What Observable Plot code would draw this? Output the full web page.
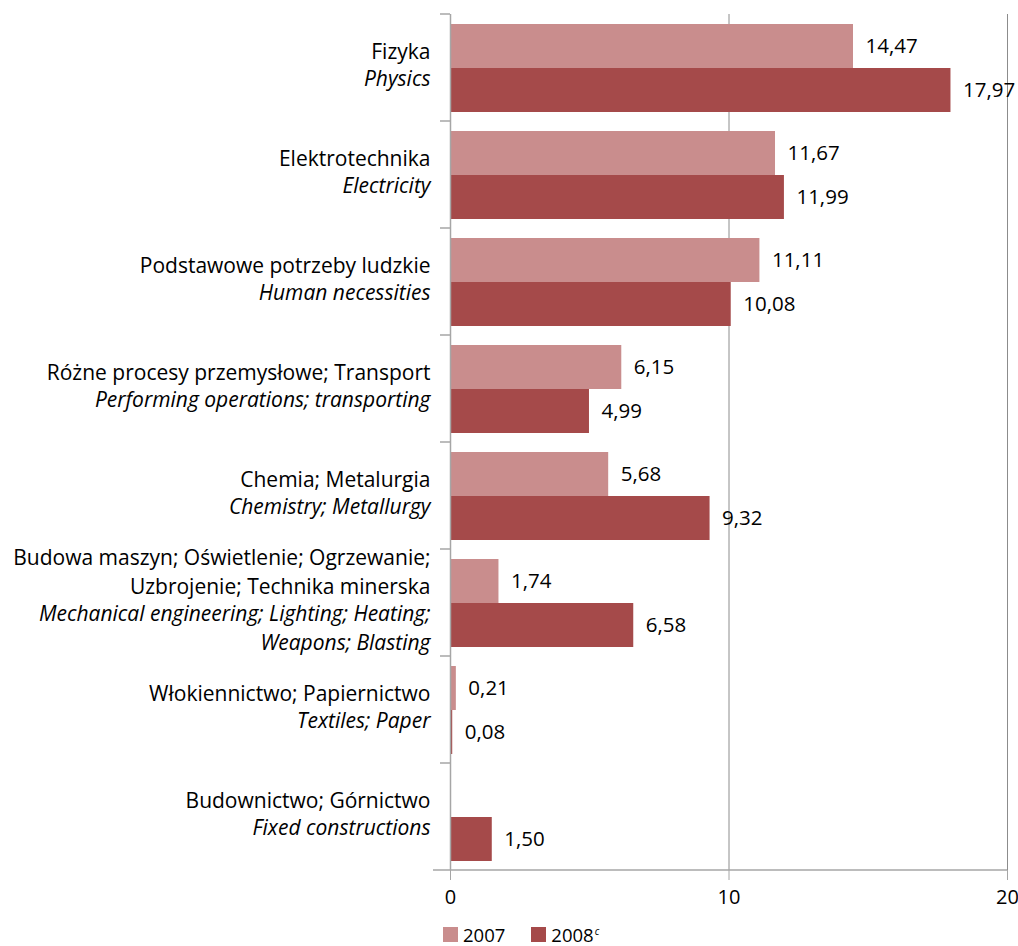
<!DOCTYPE html>
<html><head><meta charset="utf-8">
<script src="https://cdn.jsdelivr.net/npm/d3@7"></script>
<script src="https://cdn.jsdelivr.net/npm/@observablehq/plot@0.6"></script>
<style>
body{margin:0;background:#fff;font-family:"Open Sans",sans-serif;overflow:hidden;}
#chart{position:relative;width:1018px;height:946px;}
#legend{position:absolute;left:443px;top:925px;display:flex;align-items:center;font-size:18.5px;line-height:19px;color:#000;}
.item{display:flex;align-items:center;margin-right:26px;}
.sw{width:15px;height:15px;display:inline-block;margin-right:5px;}
sup{font-size:10px;font-style:italic;vertical-align:7px;margin-left:1px;line-height:10px;}
</style></head><body><div id="chart"><div id="legend"></div></div><script>
const categoriesPl = [
  "Fizyka",
  "Elektrotechnika",
  "Podstawowe potrzeby ludzkie",
  "Różne procesy przemysłowe; Transport",
  "Chemia; Metalurgia",
  "Budowa maszyn; Oświetlenie; Ogrzewanie;\nUzbrojenie; Technika minerska",
  "Włokiennictwo; Papiernictwo",
  "Budownictwo; Górnictwo"
];
const categoriesEn = [
  "Physics",
  "Electricity",
  "Human necessities",
  "Performing operations; transporting",
  "Chemistry; Metallurgy",
  "Mechanical engineering; Lighting; Heating;\nWeapons; Blasting",
  "Textiles; Paper",
  "Fixed constructions"
];
const years = ["2007", "2008"];
const yearLabels = ["2007", "2008"];
const values2007 = [14.47, 11.67, 11.11, 6.15, 5.68, 1.74, 0.21, null];
const values2008 = [17.97, 11.99, 10.08, 4.99, 9.32, 6.58, 0.08, 1.50];
const xTicks = [0, 10, 20];
const colors = ["#c98d8d", "#a54a4a"];

const rows = [];
categoriesPl.forEach((c, i) => {
  [values2007, values2008].forEach((vals, j) => {
    if (vals[i] != null) rows.push({cat: c, year: years[j], value: vals[i]});
  });
});
const catRows = categoriesPl.map((c, i) => ({cat: c, pl: c, en: categoriesEn[i]}));
const fmt = v => d3.format(".2f")(v).replace(".", ",");

const W = 1018, H = 912, mL = 450, mR = 11, mT = 13, mB = 42;
const labelFont = 21;
const ff = "'Open Sans', sans-serif";

const plot = Plot.plot({
  width: W, height: H,
  marginLeft: mL, marginRight: mR, marginTop: mT, marginBottom: mB,
  style: {fontFamily: ff, background: "#fff", overflow: "visible"},
  x: {domain: [0, 20], axis: null},
  y: {domain: years, paddingInner: 0, paddingOuter: 0.2, axis: null},
  fy: {domain: categoriesPl, padding: 0, axis: null},
  color: {domain: years, range: colors},
  marks: [
    Plot.ruleX(xTicks.slice(1), {stroke: "#8c8c8c", strokeWidth: 1}),
    Plot.barX(rows, {fy: "cat", y: "year", x: "value", fill: "year"}),
    Plot.ruleX([0], {stroke: "#a6a6a6", strokeWidth: 1.5}),
    Plot.text(rows, {fy: "cat", y: "year", x: "value", text: d => fmt(d.value),
      textAnchor: "start", dx: 12, fontSize: 20.5, fill: "#000"}),
    Plot.text(catRows, {fy: "cat", text: "pl", frameAnchor: "left", textAnchor: "end",
      lineAnchor: "bottom", dx: -20, dy: -9, fontSize: labelFont, lineHeight: 1.37, fill: "#000"}),
    Plot.text(catRows, {fy: "cat", text: "en", frameAnchor: "left", textAnchor: "end",
      lineAnchor: "top", dx: -20, dy: -2, fontSize: labelFont, lineHeight: 1.37, fontStyle: "italic", fill: "#000"}),
    Plot.axisX(xTicks, {tickSize: 10, tickPadding: 9, fontSize: 20, stroke: "#a6a6a6", fill: "#000",
      label: null, tickFormat: d => String(d)})
  ]
});

// structural lines: category boundary ticks and the x axis line, from the plot's scales
const fy = plot.scale("fy"), xs = plot.scale("x");
const svg = d3.select(plot);
const x0 = xs.apply(0);
const g = svg.append("g").attr("stroke", "#a6a6a6").attr("stroke-width", 1.5);
categoriesPl.forEach(c => {
  const yTop = fy.apply(c);
  g.append("line").attr("x1", x0 - 10).attr("x2", x0).attr("y1", yTop).attr("y2", yTop);
});
const yBot = fy.apply(categoriesPl[categoriesPl.length - 1]) + fy.bandwidth;
g.append("line").attr("x1", x0 - 17).attr("x2", xs.apply(20)).attr("y1", yBot).attr("y2", yBot);

document.getElementById("chart").prepend(plot);

const legend = d3.select("#legend");
years.forEach((y, i) => {
  const it = legend.append("div").attr("class", "item");
  it.append("span").attr("class", "sw").style("background", colors[i]);
  const t = it.append("span").text(yearLabels[i]);
  if (i === 1) t.append("sup").text("c");
});
</script></body></html>
